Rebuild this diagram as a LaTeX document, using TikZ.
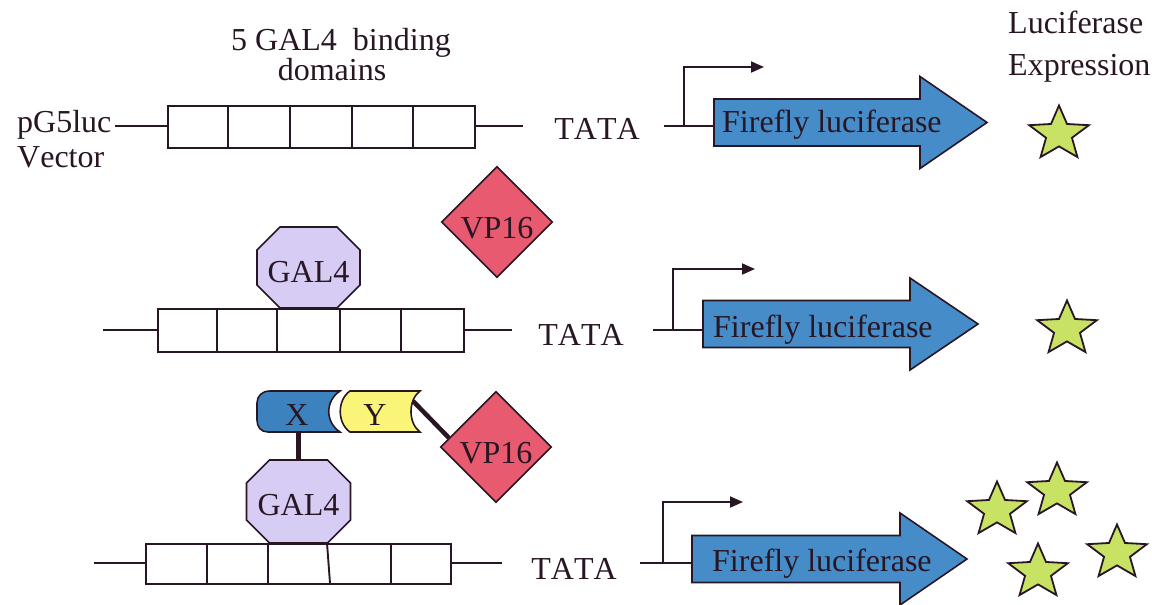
\documentclass[tikz,border=0pt]{standalone}
\usepackage{fontspec}
\setmainfont{Liberation Serif}[Kerning=Off,Ligatures=CommonOff]
\usetikzlibrary{shapes.geometric,calc,arrows.meta}
\definecolor{ink}{RGB}{40,22,36}
\definecolor{arrowblue}{RGB}{70,140,200}
\definecolor{vpred}{RGB}{232,90,112}
\definecolor{gallav}{RGB}{214,204,244}
\definecolor{xblue}{RGB}{60,130,190}
\definecolor{yyellow}{RGB}{250,245,120}
\definecolor{stargreen}{RGB}{200,226,100}
\tikzset{
  txt/.style={font=\fontsize{32}{34}\selectfont, text=ink, inner sep=0pt},
  dna/.style={draw=ink, line width=1.9pt},
  seg/.style={draw=ink, line width=1.9pt, fill=white, inner sep=0pt},
  gene/.style={draw=ink, line width=1.6pt, fill=arrowblue, line join=miter},
  promo/.style={draw=ink, line width=1.8pt, -{Triangle[length=13pt,width=11pt]}},
  vp/.style={diamond, aspect=1, draw=ink, line width=1.6pt, fill=vpred, minimum size=111pt,
    inner sep=0pt, font=\fontsize{32}{34}\selectfont, text=ink, text height=33pt, text depth=0pt},
  galst/.style={draw=ink, line width=1.6pt, fill=gallav, line join=miter},
  galbox/.style={inner sep=0pt, outer sep=0pt},
  lum/.style={star, star points=5, star point ratio=2.3, minimum size=57pt, draw=ink,
    line width=1.8pt, fill=stargreen, inner sep=0pt, xscale=1.1, transform shape},
  link/.style={draw=ink, line width=4.5pt},
  xpart/.style={draw=ink, line width=1.6pt, fill=xblue},
  ypart/.style={draw=ink, line width=1.6pt, fill=yyellow},
}
\newcommand\octagonshape[2]{%
  \draw[galst] ($(#1.north west)+(#2,0)$) -- ($(#1.north east)+(-#2,0)$)
    -- ($(#1.north east)+(0,#2)$) -- ($(#1.south east)+(0,-#2)$)
    -- ($(#1.south east)+(-#2,0)$) -- ($(#1.south west)+(#2,0)$)
    -- ($(#1.south west)+(0,-#2)$) -- ($(#1.north west)+(0,#2)$) -- cycle;}
\newcommand\genearrow[4]{% left, head x, tip x, centre y
  \draw[gene] (#1,{#4-23.5}) -- (#2,{#4-23.5}) -- (#2,{#4-46}) -- (#3,#4)
    -- (#2,{#4+46}) -- (#2,{#4+23.5}) -- (#1,{#4+23.5}) -- cycle;}
\begin{document}
\begin{tikzpicture}[x=1pt,y=-1pt]
\useasboundingbox (0,0) rectangle (1152,605);
\fill[white] (0,0) rectangle (1152,605);

% ---------- titles ----------
\node[txt,anchor=base] (gb) at (341,50) {5 GAL4\ \ binding};
\node[txt,anchor=base] (dm) at (332,80) {domains};
\node[txt,anchor=base west] (le1) at (1008,33) {Luciferase};
\node[txt,anchor=base west] (le2) at (1008,75) {Expression};

% ---------- row 1 ----------
\node[txt,anchor=base west] (pg) at (17,132) {pG5luc};
\node[txt,anchor=base west] (vec) at (17,167) {Vector};
\coordinate (l1) at (115,126);
\coordinate (r1) at (523,126);
\draw[dna] (l1) -- (r1);
\node[seg,anchor=north west,minimum width=307pt,minimum height=42pt] (box1) at (167,105) {};
\foreach \x in {228,290,352,413} \draw[dna] (\x,105) -- (\x,147);
\node[txt,anchor=base] (t1) at (597,139) {TATA};
\coordinate (p1) at (664,126);
\coordinate (g1) at (714,126);
\draw[dna] (p1) -- (g1);
\coordinate (s1) at (684,126);
\coordinate (e1) at (764,67);
\draw[promo] (s1) |- (e1);
\genearrow{714}{920}{987}{122.5}
\node[txt,anchor=base west] (ff1) at (722,132) {Firefly luciferase};
\node[lum] (st1) at (1059,134) {};

% ---------- row 2 ----------
\node[vp] (vp2) at (497,222) {VP16};
\node[galbox,minimum width=103pt,minimum height=81pt] (gal2) at (308.5,267.5) {};
\octagonshape{gal2}{23}
\node[txt,anchor=base] (gal2t) at ($(gal2.center)+(0,14.5)$) {GAL4};
\coordinate (l2) at (103,330);
\coordinate (r2) at (512,330);
\draw[dna] (l2) -- (r2);
\node[seg,anchor=north west,minimum width=306pt,minimum height=43pt] (box2) at (157,308) {};
\foreach \x in {217,277,340,401} \draw[dna] (\x,308) -- (\x,351);
\node[txt,anchor=base] (t2) at (581,345) {TATA};
\coordinate (p2) at (653,330);
\coordinate (g2) at (703,330);
\draw[dna] (p2) -- (g2);
\coordinate (s2) at (673,330);
\coordinate (e2) at (755,269);
\draw[promo] (s2) |- (e2);
\genearrow{703}{910}{978}{324}
\node[txt,anchor=base west] (ff2) at (713,337) {Firefly luciferase};
\node[lum] (st2) at (1067,329) {};

% ---------- row 3 ----------
\node[galbox,minimum width=104pt,minimum height=83pt] (gal3) at (298.5,501.5) {};
\coordinate (xb) at (298.5,432);
\coordinate (yn) at (413,401);
\draw[link] (xb) -- (gal3.north);
\node[vp] (vp3) at (496,447) {VP16};
\draw[link] (yn) -- (vp3.169);
\octagonshape{gal3}{23}
\node[txt,anchor=base] (gal3t) at ($(gal3.center)+(0,14)$) {GAL4};
% X and Y interacting proteins
\draw[xpart] (270,391) -- (340,391) .. controls (325,401) and (325,422) .. (340,432)
  -- (268,432) .. controls (261,432) and (257,427) .. (257,420) -- (257,403)
  .. controls (257,396) and (262,391) .. (270,391) -- cycle;
\draw[ypart] (350,391) -- (420,391) .. controls (408,400) and (408,423) .. (420,432)
  -- (350,432) .. controls (337,423) and (337,400) .. (350,391) -- cycle;
\node[txt,anchor=base] (xn) at (297,425) {X};
\node[txt,anchor=base] (yn2) at (375,425) {Y};
\coordinate (l3) at (94,563);
\coordinate (r3) at (502,563);
\draw[dna] (l3) -- (r3);
\node[seg,anchor=north west,minimum width=305pt,minimum height=40pt] (box3) at (145,543) {};
\foreach \x in {207,268,391} \draw[dna] (\x,543) -- (\x,583);
\draw[dna] (327,543) -- (330,583);
\node[txt,anchor=base] (t3) at (574,579) {TATA};
\coordinate (p3) at (640,563);
\coordinate (g3) at (692,563);
\draw[dna] (p3) -- (g3);
\coordinate (s3) at (663,563);
\coordinate (e3) at (743,502);
\draw[promo] (s3) |- (e3);
\genearrow{692}{900}{967}{559}
\node[txt,anchor=base west] (ff3) at (712,571) {Firefly luciferase};
\node[lum] (st3a) at (997,510) {};
\node[lum] (st3b) at (1057,491) {};
\node[lum] (st3c) at (1038,572) {};
\node[lum] (st3d) at (1117,553) {};
\end{tikzpicture}
\end{document}
